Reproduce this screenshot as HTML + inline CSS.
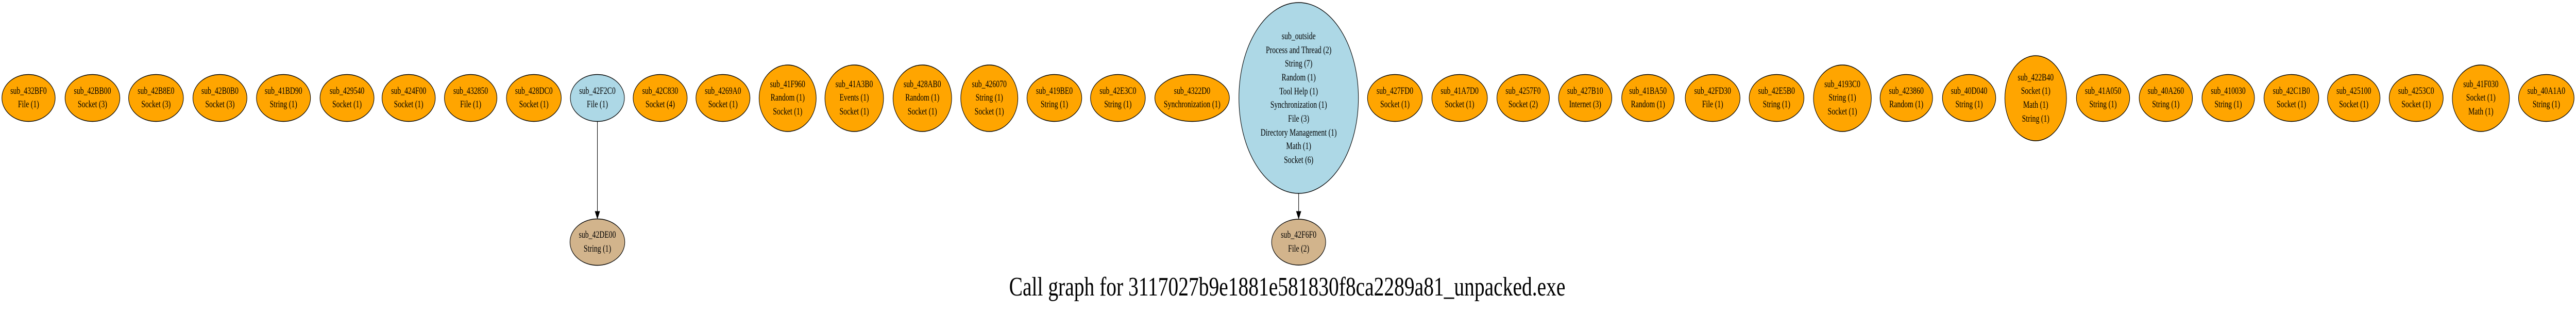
<!DOCTYPE html>
<html><head><meta charset="utf-8"><style>
html,body{margin:0;padding:0;background:#fff;overflow:hidden;width:100%;height:100%;}
svg{display:block;width:100vw;height:100vh;}
text{font-family:"Liberation Serif","Times New Roman",serif;font-size:18.7px;text-anchor:middle;fill:#000;}
ellipse{stroke:#000;stroke-width:1.4;}
.o{fill:#ffa500}.b{fill:#add8e6}.t{fill:#d2b48c}
</style></head><body>
<svg viewBox="0 0 6770 605" preserveAspectRatio="none" xmlns="http://www.w3.org/2000/svg">
<rect width="6770" height="605" fill="#fff"/>
<line x1="1570" y1="236" x2="1570" y2="411" stroke="#000" stroke-width="1.4"/>
<polygon points="1564,410 1576,410 1570,424" fill="#000" stroke="#000"/>
<line x1="3413" y1="375" x2="3413" y2="411" stroke="#000" stroke-width="1.4"/>
<polygon points="3407,410 3419,410 3413,424" fill="#000" stroke="#000"/>

<g>
<ellipse class="o" cx="75" cy="190" rx="70" ry="45.5"/><text x="75" y="182">sub_432BF0</text><text x="75" y="208">File (1)</text>
<ellipse class="o" cx="243" cy="190" rx="72" ry="45.5"/><text x="243" y="182">sub_42BB00</text><text x="243" y="208">Socket (3)</text>
<ellipse class="o" cx="410" cy="190" rx="72" ry="45.5"/><text x="410" y="182">sub_42B8E0</text><text x="410" y="208">Socket (3)</text>
<ellipse class="o" cx="578" cy="190" rx="71" ry="45.5"/><text x="578" y="182">sub_42B0B0</text><text x="578" y="208">Socket (3)</text>
<ellipse class="o" cx="745" cy="190" rx="71" ry="45.5"/><text x="745" y="182">sub_41BD90</text><text x="745" y="208">String (1)</text>
<ellipse class="o" cx="912" cy="190" rx="71" ry="45.5"/><text x="912" y="182">sub_429540</text><text x="912" y="208">Socket (1)</text>
<ellipse class="o" cx="1074" cy="190" rx="70" ry="45.5"/><text x="1074" y="182">sub_424F00</text><text x="1074" y="208">Socket (1)</text>
<ellipse class="o" cx="1237" cy="190" rx="69" ry="45.5"/><text x="1237" y="182">sub_432850</text><text x="1237" y="208">File (1)</text>
<ellipse class="o" cx="1403" cy="190" rx="72" ry="45.5"/><text x="1403" y="182">sub_428DC0</text><text x="1403" y="208">Socket (1)</text>
<ellipse class="b" cx="1570" cy="190" rx="71" ry="45.5"/><text x="1570" y="182">sub_42F2C0</text><text x="1570" y="208">File (1)</text>
<ellipse class="o" cx="1735" cy="190" rx="71" ry="45.5"/><text x="1735" y="182">sub_42C830</text><text x="1735" y="208">Socket (4)</text>
<ellipse class="o" cx="1900" cy="190" rx="71" ry="45.5"/><text x="1900" y="182">sub_4269A0</text><text x="1900" y="208">Socket (1)</text>

<ellipse class="o" cx="2070" cy="190.5" rx="75" ry="64.5"/><text x="2070" y="169">sub_41F960</text><text x="2070" y="195">Random (1)</text><text x="2070" y="222">Socket (1)</text>
<ellipse class="o" cx="2245" cy="190.5" rx="77" ry="64.5"/><text x="2245" y="169">sub_41A3B0</text><text x="2245" y="195">Events (1)</text><text x="2245" y="222">Socket (1)</text>
<ellipse class="o" cx="2424" cy="190.5" rx="77" ry="64.5"/><text x="2424" y="169">sub_428AB0</text><text x="2424" y="195">Random (1)</text><text x="2424" y="222">Socket (1)</text>
<ellipse class="o" cx="2600" cy="190.5" rx="75" ry="64.5"/><text x="2600" y="169">sub_426070</text><text x="2600" y="195">String (1)</text><text x="2600" y="222">Socket (1)</text>

<ellipse class="o" cx="2771" cy="190" rx="72" ry="45.5"/><text x="2771" y="182">sub_419BE0</text><text x="2771" y="208">String (1)</text>
<ellipse class="o" cx="2938" cy="190" rx="72" ry="45.5"/><text x="2938" y="182">sub_42E3C0</text><text x="2938" y="208">String (1)</text>
<ellipse class="o" cx="3133" cy="190" rx="98" ry="45.5"/><text x="3133" y="182">sub_4322D0</text><text x="3133" y="208">Synchronization (1)</text>

<ellipse class="b" cx="3413" cy="190" rx="157" ry="185"/>
<text x="3413" y="76">sub_outside</text>
<text x="3413" y="103">Process and Thread (2)</text>
<text x="3413" y="129">String (7)</text>
<text x="3413" y="156">Random (1)</text>
<text x="3413" y="183">Tool Help (1)</text>
<text x="3413" y="209">Synchronization (1)</text>
<text x="3413" y="236">File (3)</text>
<text x="3413" y="263">Directory Management (1)</text>
<text x="3413" y="289">Math (1)</text>
<text x="3413" y="316">Socket (6)</text>

<ellipse class="o" cx="3666" cy="190" rx="72" ry="45.5"/><text x="3666" y="182">sub_427FD0</text><text x="3666" y="208">Socket (1)</text>
<ellipse class="o" cx="3836" cy="190" rx="73" ry="45.5"/><text x="3836" y="182">sub_41A7D0</text><text x="3836" y="208">Socket (1)</text>
<ellipse class="o" cx="4003" cy="190" rx="69" ry="45.5"/><text x="4003" y="182">sub_4257F0</text><text x="4003" y="208">Socket (2)</text>
<ellipse class="o" cx="4166" cy="190" rx="70" ry="45.5"/><text x="4166" y="182">sub_427B10</text><text x="4166" y="208">Internet (3)</text>
<ellipse class="o" cx="4331" cy="190" rx="69" ry="45.5"/><text x="4331" y="182">sub_41BA50</text><text x="4331" y="208">Random (1)</text>
<ellipse class="o" cx="4501" cy="190" rx="72" ry="45.5"/><text x="4501" y="182">sub_42FD30</text><text x="4501" y="208">File (1)</text>
<ellipse class="o" cx="4669" cy="190" rx="72" ry="45.5"/><text x="4669" y="182">sub_42E5B0</text><text x="4669" y="208">String (1)</text>
<ellipse class="o" cx="4842" cy="190.5" rx="76" ry="64.5"/><text x="4842" y="169">sub_4193C0</text><text x="4842" y="195">String (1)</text><text x="4842" y="222">Socket (1)</text>
<ellipse class="o" cx="5010" cy="190" rx="69" ry="45.5"/><text x="5010" y="182">sub_423860</text><text x="5010" y="208">Random (1)</text>
<ellipse class="o" cx="5175" cy="190" rx="70" ry="45.5"/><text x="5175" y="182">sub_40D040</text><text x="5175" y="208">String (1)</text>
<ellipse class="o" cx="5350" cy="190.5" rx="81" ry="82.5"/><text x="5350" y="156">sub_422B40</text><text x="5350" y="182">Socket (1)</text><text x="5350" y="209">Math (1)</text><text x="5350" y="236">String (1)</text>
<ellipse class="o" cx="5527" cy="190" rx="70" ry="45.5"/><text x="5527" y="182">sub_41A050</text><text x="5527" y="208">String (1)</text>
<ellipse class="o" cx="5692" cy="190" rx="70" ry="45.5"/><text x="5692" y="182">sub_40A260</text><text x="5692" y="208">String (1)</text>
<ellipse class="o" cx="5856" cy="190" rx="69" ry="45.5"/><text x="5856" y="182">sub_410030</text><text x="5856" y="208">String (1)</text>
<ellipse class="o" cx="6022" cy="190" rx="72" ry="45.5"/><text x="6022" y="182">sub_42C1B0</text><text x="6022" y="208">Socket (1)</text>
<ellipse class="o" cx="6186" cy="190" rx="69" ry="45.5"/><text x="6186" y="182">sub_425100</text><text x="6186" y="208">Socket (1)</text>
<ellipse class="o" cx="6350" cy="190" rx="71" ry="45.5"/><text x="6350" y="182">sub_4253C0</text><text x="6350" y="208">Socket (1)</text>
<ellipse class="o" cx="6520" cy="190.5" rx="75" ry="64.5"/><text x="6520" y="169">sub_41F030</text><text x="6520" y="195">Socket (1)</text><text x="6520" y="222">Math (1)</text>
<ellipse class="o" cx="6692" cy="190" rx="73" ry="45.5"/><text x="6692" y="182">sub_40A1A0</text><text x="6692" y="208">String (1)</text>
</g>

<ellipse class="t" cx="1570" cy="469.5" rx="72" ry="45"/><text x="1570" y="461">sub_42DE00</text><text x="1570" y="488">String (1)</text>
<ellipse class="t" cx="3413" cy="469.5" rx="71" ry="44.5"/><text x="3413" y="461">sub_42F6F0</text><text x="3413" y="488">File (2)</text>

<text x="3383" y="573" style="font-size:52px" textLength="1462" lengthAdjust="spacingAndGlyphs">Call graph for 3117027b9e1881e581830f8ca2289a81_unpacked.exe</text>
</svg>
</body></html>
